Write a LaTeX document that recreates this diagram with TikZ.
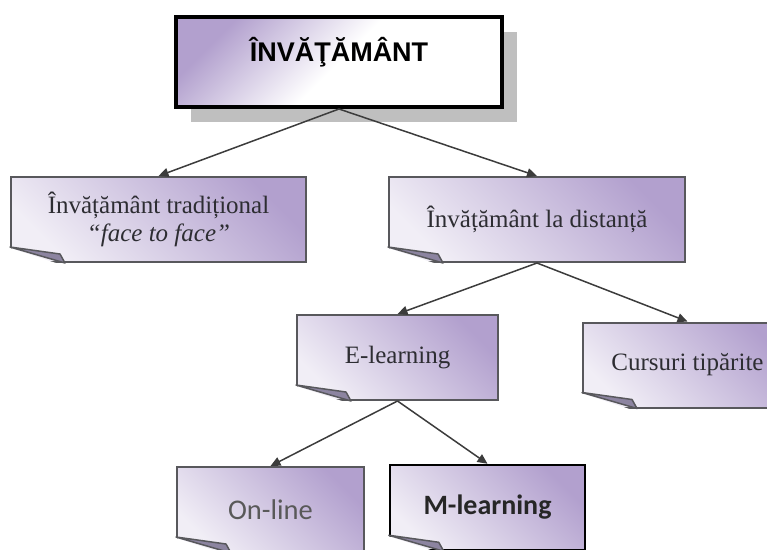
\documentclass[tikz,border=0pt]{standalone}
\usepackage{fontspec}
\setmainfont{Liberation Serif}
\newfontfamily\arialfont{Liberation Sans}
\newfontfamily\calibrifont{Carlito}
\usetikzlibrary{arrows.meta,shadows}
\definecolor{lavdark}{RGB}{178,160,206}
\definecolor{lavlight}{RGB}{241,238,246}
\definecolor{notegray}{RGB}{88,88,92}
\definecolor{foldgray}{RGB}{140,132,160}
\definecolor{textgray}{RGB}{45,45,50}
\definecolor{linegray}{RGB}{60,60,60}
\begin{document}
\begin{tikzpicture}[x=1pt,y=-1pt,>={Triangle[length=10pt,width=9pt]},
  title/.style={rectangle,draw=black,line width=4pt,minimum width=326pt,minimum height=90pt,
    top color=lavdark,bottom color=white,middle color=white,shading angle=45,
    drop shadow={shadow xshift=15pt,shadow yshift=-15pt,fill=black!25,opacity=1},
    font=\arialfont\bfseries\fontsize{27}{30}\selectfont,text depth=26pt},
  note/.style={rectangle,draw=notegray,line width=2pt,minimum height=85pt,
    top color=lavdark,bottom color=lavlight,shading angle=-45,
    text=textgray,font=\fontsize{25}{28}\selectfont,align=center},
  fold/.style={fill=foldgray,draw=notegray,line width=1.5pt,line join=round},
  link/.style={draw=linegray,line width=1.5pt}]

  \useasboundingbox (0,0) rectangle (767,549) ;
  \clip (0,0) rectangle (767,549) ;

  \node[title] at (339, 62) (inv) {ÎNVĂŢĂMÂNT} ;
  \node[note,minimum width=295pt] at (158.5,219.5) (trad)   {Învățământ tradițional\\\textit{“face to face”}} ;
  \node[note,minimum width=296pt] at (537,  219.5) (dist)   {Învățământ la distanță} ;
  \node[note,minimum width=201pt] at (397.5,357.5) (elearn) {E-learning} ;
  \node[note,minimum width=209pt] at (687.5,365)   (curs)   {Cursuri tipărite} ;
  \node[note,minimum width=187pt,font=\calibrifont\fontsize{28.5}{30}\selectfont,text=black!65]
                                  at (270.5,509.5) (online) {On-line} ;
  \node[note,minimum width=195pt,draw=black,line width=2.5pt,font=\calibrifont\bfseries\fontsize{28}{30}\selectfont,text=black!85]
                                  at (487.5,507.5) (mlearn) {M-learning} ;

  % folded corners
  \foreach \nd in {trad,dist,elearn,curs,online,mlearn}{
    \fill[white] ([xshift=-3pt,yshift=16pt]\nd.south west) -- ([xshift=55pt,yshift=-3pt]\nd.south west)
      -- ([xshift=-3pt,yshift=-3pt]\nd.south west) -- cycle ;
    \filldraw[fold] ([yshift=16pt]\nd.south west) -- ([xshift=50pt,yshift=9pt]\nd.south west)
      -- ([xshift=55pt]\nd.south west) -- cycle ;
  }

  \draw[link,->] (inv.south)    -- (trad.north) ;
  \draw[link,->] (inv.south)    -- (dist.north) ;
  \draw[link,->] (dist.south)   -- (elearn.north) ;
  \draw[link,->] (dist.south)   -- (curs.north) ;
  \draw[link,->] (elearn.south) -- (online.north) ;
  \draw[link,->] (elearn.south) -- (mlearn.north) ;

\end{tikzpicture}
\end{document}
